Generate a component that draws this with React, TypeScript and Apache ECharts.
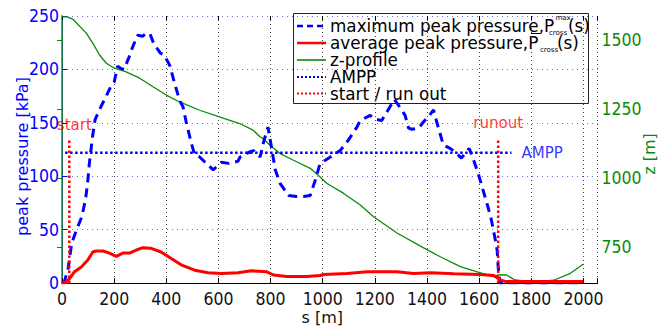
import React, { useEffect, useRef } from "react";
import * as echarts from "echarts";

// ---------- data ----------
const maxS = [0, 10, 24, 37, 56, 76, 90, 98, 105, 117, 127, 149, 168, 187, 200, 213, 225, 238, 258, 271, 290, 310, 322, 338, 352, 378, 390, 413, 432, 451, 464, 477, 496, 509, 528, 567, 580, 611, 640, 675, 683, 722, 735, 760, 772, 790, 805, 818, 837, 869, 900, 926, 952, 971, 990, 1010, 1029, 1067, 1099, 1131, 1144, 1182, 1195, 1226, 1258, 1275, 1303, 1316, 1329, 1342, 1368, 1387, 1406, 1425, 1444, 1463, 1489, 1506, 1532, 1562, 1576, 1596, 1615, 1634, 1647, 1660, 1669, 1673, 1677, 1680, 2000];
const maxP = [0, 2, 14, 37, 50, 62, 78, 93, 112, 137, 153, 165, 174, 184, 188, 203, 201, 200, 212, 221, 232, 231, 234, 233, 224, 215, 214, 204, 187, 171, 165, 150, 131, 120, 118, 109, 106, 113, 112, 114, 118, 123, 124, 118, 131, 146, 125, 106, 93, 82, 81, 81, 82, 96, 112, 115, 118, 124, 134, 146, 152, 157, 154, 152, 165, 172, 162, 157, 145, 144, 145, 151, 156, 162, 145, 129, 126, 123, 117, 126, 117, 103, 87, 71, 59, 43, 31, 15, 7, 0, 0];

const avgS = [0, 10, 29, 48, 74, 99, 118, 131, 157, 182, 208, 233, 259, 291, 310, 342, 380, 419, 457, 509, 560, 611, 675, 726, 786, 811, 862, 939, 990, 1003, 1093, 1170, 1285, 1349, 1413, 1503, 1605, 1656, 1681, 1700, 2000];
const avgP = [0, 0, 4, 10.6, 15, 21.5, 29, 30, 30, 28, 25, 28, 28, 31.5, 33, 32.5, 29, 23, 17, 12, 9.6, 9, 9.6, 11.5, 10.5, 7.5, 6, 6, 7, 8, 9, 10.6, 10.6, 9, 9.6, 8.6, 8, 7, 2.8, 1.5, 1.5];

const zS = [0, 20, 41, 93, 118, 144, 170, 201, 246, 298, 349, 400, 451, 528, 604, 681, 733, 759, 771, 797, 835, 886, 952, 983, 1015, 1079, 1144, 1195, 1285, 1387, 1449, 1528, 1590, 1654, 1673, 1705, 1737, 1810, 1886, 1950, 2000];
const zZ = [1584, 1584, 1576, 1525, 1489, 1446, 1416, 1398, 1385, 1362, 1331, 1301, 1276, 1246, 1222, 1198, 1174, 1150, 1144, 1120, 1090, 1066, 1036, 1011, 982, 946, 903, 861, 802, 748, 717, 680, 662, 644, 650, 650, 632, 625, 631, 656, 690];

const amppValue = 122;
const amppS = [12, 1724];
const startS = 28;
const runoutS = 1673;
const markerTop = 135;

const zTicks = [750, 1000, 1250, 1500];

const legendLabels = [
  "maximum peak pressure,P",
  "average peak pressure,P",
  "z-profile",
  "AMPP",
  "start / run out",
];

// ---------- styles ----------
const BLUE = "#0000ff";
const RED = "#ff0000";
const GREEN = "#0a8a0a";
const NARROW = '"Liberation Sans Narrow", "DejaVu Sans Condensed", "Liberation Sans", sans-serif';
const SANS = '"DejaVu Sans", "Liberation Sans", sans-serif';

const pairs = (xs: number[], ys: number[]) => xs.map((x, i) => [x, ys[i]]);

export default function App() {
  const ref = useRef<HTMLDivElement>(null);

  useEffect(() => {
    document.body.style.margin = "0";
    if (!ref.current) return;
    const chart = echarts.init(ref.current, null, { renderer: "svg" });

    const legX = 293.5;
    const legY = 13.5;
    const rowY = [26, 43, 60, 77, 93.5];
    const iconX0 = 297;
    const iconX1 = 326;
    const textX = 330;
    const LFS = 16.8;

    const legendIcon = (i: number, color: string, width: number, dash: number[] | null) => ({
      type: "line",
      shape: { x1: iconX0, y1: rowY[i], x2: iconX1, y2: rowY[i] },
      style: { stroke: color, lineWidth: width, lineDash: dash || undefined },
    });
    const legendText = (text: string, x: number, y: number, size: number, lh?: number) => ({
      type: "text",
      x,
      y,
      style: {
        text,
        fill: "#000",
        fontSize: size,
        fontFamily: SANS,
        verticalAlign: "middle",
        align: "left",
        lineHeight: lh || size,
      },
    });

    const option: any = {
      animation: false,
      textStyle: { fontFamily: SANS },
      grid: { left: 62, right: 69.5, top: 16, bottom: 45, containLabel: false, outerBoundsMode: "none" },
      xAxis: [
        {
          type: "value",
          min: 0,
          max: 2054,
          interval: 200,
          position: "bottom",
          axisLine: { show: true, lineStyle: { color: "#000", width: 1 } },
          axisTick: { show: true, inside: true, length: 5, lineStyle: { color: "#000" } },
          axisLabel: {
            color: "#111",
            fontFamily: NARROW,
            fontSize: 17.5,
            margin: 7,
            formatter: (v: number) => (v % 200 === 0 ? String(v) : ""),
          },
          splitLine: { show: true, lineStyle: { color: "#444", type: [1, 3], width: 1 } },
          name: "s [m]",
          nameLocation: "middle",
          nameGap: 26,
          nameMoveOverlap: false,
          nameTextStyle: { color: "#111", fontSize: 16, fontFamily: SANS, padding: [0, 15, 0, 0] },
        },
        {
          type: "value",
          min: 0,
          max: 2054,
          interval: 200,
          position: "top",
          axisLine: { show: false },
          axisTick: { show: true, inside: true, length: 4, lineStyle: { color: "#000" } },
          axisLabel: { show: false },
          splitLine: { show: false },
        },
      ],
      yAxis: [
        {
          type: "value",
          min: 0,
          max: 250,
          interval: 50,
          position: "left",
          axisLine: { show: true, lineStyle: { color: BLUE, width: 1 } },
          axisTick: { show: true, inside: true, length: 5, lineStyle: { color: BLUE } },
          axisLabel: { color: BLUE, fontFamily: NARROW, fontSize: 17.5, margin: 3, formatter: (v: number) => String(v) },
          splitLine: { show: true, lineStyle: { color: "#6a6aff", type: [1, 4], width: 1 } },
          name: "peak pressure [kPa]",
          nameLocation: "middle",
          nameRotate: 90,
          nameGap: 32,
          nameMoveOverlap: false,
          nameTextStyle: { color: BLUE, fontSize: 16, fontFamily: SANS, padding: [0, 14, 0, 0] },
        },
        {
          type: "value",
          min: 621,
          max: 1587,
          interval: 250,
          position: "right",
          axisLine: { show: true, lineStyle: { color: "#1a9a1a", width: 1.5 } },
          axisTick: { show: true, inside: true, length: 5, customValues: zTicks, lineStyle: { color: GREEN } },
          axisLabel: {
            customValues: zTicks,
            color: GREEN,
            fontFamily: NARROW,
            fontSize: 17.5,
            margin: 4,
            formatter: (v: number) => String(v),
          },
          splitLine: { show: false },
          name: "z [m]",
          nameLocation: "middle",
          nameRotate: 90,
          nameGap: 44,
          nameMoveOverlap: false,
          nameTextStyle: { color: GREEN, fontSize: 16, fontFamily: SANS, padding: [0, 9, 0, 0] },
        },
      ],
      series: [
        {
          name: "z-profile",
          type: "line",
          yAxisIndex: 1,
          data: pairs(zS, zZ),
          symbol: "none",
          lineStyle: { color: GREEN, width: 1.3 },
          z: 2,
        },
        {
          name: "maximum peak pressure",
          type: "line",
          data: pairs(maxS, maxP),
          symbol: "none",
          lineStyle: { color: BLUE, width: 3, type: [9, 6] },
          z: 3,
        },
        {
          name: "average peak pressure",
          type: "line",
          data: pairs(avgS, avgP),
          symbol: "none",
          lineStyle: { color: RED, width: 3 },
          z: 4,
        },
        {
          name: "AMPP",
          type: "line",
          data: amppS.map((s) => [s, amppValue]),
          symbol: "none",
          lineStyle: { color: BLUE, width: 2.5, type: [2.5, 2.5] },
          z: 5,
        },
        {
          name: "start",
          type: "line",
          data: [[startS, 0], [startS, markerTop]],
          symbol: "none",
          lineStyle: { color: RED, width: 2.5, type: [2.5, 2.5] },
          z: 5,
        },
        {
          name: "runout",
          type: "line",
          data: [[runoutS, 0], [runoutS, markerTop]],
          symbol: "none",
          lineStyle: { color: RED, width: 2.5, type: [2.5, 2.5] },
          z: 5,
        },
        {
          name: "annotations",
          type: "scatter",
          symbolSize: 0,
          silent: true,
          z: 6,
          data: [
            { name: "start", value: [startS, markerTop], label: { show: true, position: "top", distance: 6, offset: [5, 0], color: RED } },
            { name: "runout", value: [runoutS, markerTop], label: { show: true, position: "top", distance: 8, color: RED } },
            { name: "AMPP", value: [amppS[1], amppValue], label: { show: true, position: "right", distance: 10, color: BLUE } },
          ],
          label: { show: true, formatter: (p: any) => p.name, fontSize: 15, fontFamily: SANS },
        },
      ],
      graphic: [
        {
          type: "group",
          z: 100,
          children: [
            {
              type: "rect",
              shape: { x: legX, y: legY, width: 295, height: 90 },
              style: { fill: "#fff", stroke: "#222", lineWidth: 1 },
            },
            legendIcon(0, BLUE, 2.5, [6, 4]),
            legendIcon(1, RED, 2.5, null),
            legendIcon(2, GREEN, 1.6, null),
            legendIcon(3, BLUE, 2, [2, 2]),
            legendIcon(4, RED, 2, [2, 2]),
            legendText(legendLabels[0], textX, rowY[0], LFS, 12),
            legendText("max", 555.5, 17.5, 7, 6),
            legendText("cross", 549, 33, 7, 6),
            legendText("(s)", 568, rowY[0], LFS, 12),
            legendText(legendLabels[1], textX, rowY[1], LFS, 12),
            {
              type: "line",
              shape: { x1: 531, y1: 33.5, x2: 540, y2: 33.5 },
              style: { stroke: "#000", lineWidth: 1 },
            },
            legendText("cross", 540, 50, 7, 6),
            legendText("(s)", 557, rowY[1], LFS, 12),
            legendText(legendLabels[2], textX, rowY[2], LFS, 12),
            legendText(legendLabels[3], textX, rowY[3], LFS, 12),
            legendText(legendLabels[4], textX, rowY[4], LFS, 12),
          ],
        },
      ],
    };

    chart.setOption(option);
    return () => chart.dispose();
  }, []);

  return <div ref={ref} style={{ width: 667, height: 328 }} />;
}
